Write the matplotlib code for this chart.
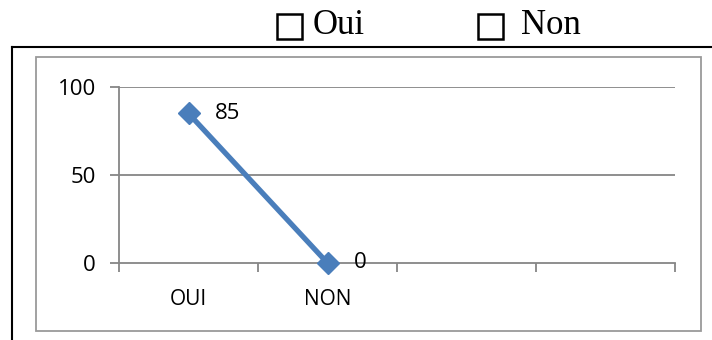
import matplotlib.pyplot as plt
from matplotlib.patches import Rectangle
from matplotlib.lines import Line2D

categories = ["OUI", "NON", "", ""]
series_x = [0, 1]
series_values = [85, 0]
y_ticks = [0, 50, 100]

W, H = 712, 340
fig = plt.figure(figsize=(W / 100, H / 100), dpi=100)

def px(x, y):
    return x / W, 1 - y / H

# outer page frame (top and left rules)
fig.add_artist(Line2D([12 / W, 1], [1 - 47 / H] * 2, color="black", lw=1.5))
fig.add_artist(Line2D([12 / W] * 2, [0, 1 - 47 / H], color="black", lw=1.5))

# chart area border
x0, y0 = px(36, 331)
x1, y1 = px(701, 57)
fig.add_artist(Rectangle((x0, y0), x1 - x0, y1 - y0, fill=False,
                         edgecolor="#9a9a9a", lw=1.3, transform=fig.transFigure))

# checkbox legend above the chart
serif = ["Liberation Serif", "DejaVu Sans"]
for bx, label, tx in [(277, "Oui", 313), (478, "Non", 521)]:
    bl, bb = px(bx, 39)
    fig.add_artist(Rectangle((bl, bb), 25 / W, 25 / H, fill=False,
                             edgecolor="black", lw=1.8, transform=fig.transFigure))
    fig.text(tx / W, 1 - 26 / H, label, family=serif, fontsize=25,
             va="center", ha="left")

# plot area
left, bottom = px(119, 263)
right, top = px(675, 87)
ax = fig.add_axes([left, bottom, right - left, top - bottom])
ax.set_xlim(-0.5, 3.5)
ax.set_ylim(0, 100)

grid_c = "#868686"
for y in y_ticks[1:]:
    ax.axhline(y, color=grid_c, lw=1.3, zorder=1)
for s in ["top", "right"]:
    ax.spines[s].set_visible(False)
for s in ["left", "bottom"]:
    ax.spines[s].set_color(grid_c)
    ax.spines[s].set_linewidth(1.3)

ax.set_yticks(y_ticks)
ax.set_yticklabels([str(v) for v in y_ticks], family="Open Sans", fontsize=16)
ax.set_xticks([i - 0.5 for i in range(len(categories) + 1)])
ax.set_xticklabels([])
ax.set_xticks(range(len(categories)), minor=True)
ax.set_xticklabels(categories, minor=True, family="Open Sans", fontsize=15)
ax.tick_params(axis="x", which="major", length=6.5, width=1.3, color=grid_c)
ax.tick_params(axis="x", which="minor", length=0, pad=19)
ax.tick_params(axis="y", length=6.5, width=1.3, color=grid_c, pad=10)

ax.plot(series_x, series_values, color="#4A7EBB", lw=3.8, marker="D",
        markersize=11.5, zorder=3, clip_on=False)
for x, v in zip(series_x, series_values):
    ax.annotate(str(v), (x, v), xytext=(19, 0), textcoords="offset points",
                va="center", ha="left", family="Open Sans", fontsize=16)

fig.savefig("out.png", dpi=100)
